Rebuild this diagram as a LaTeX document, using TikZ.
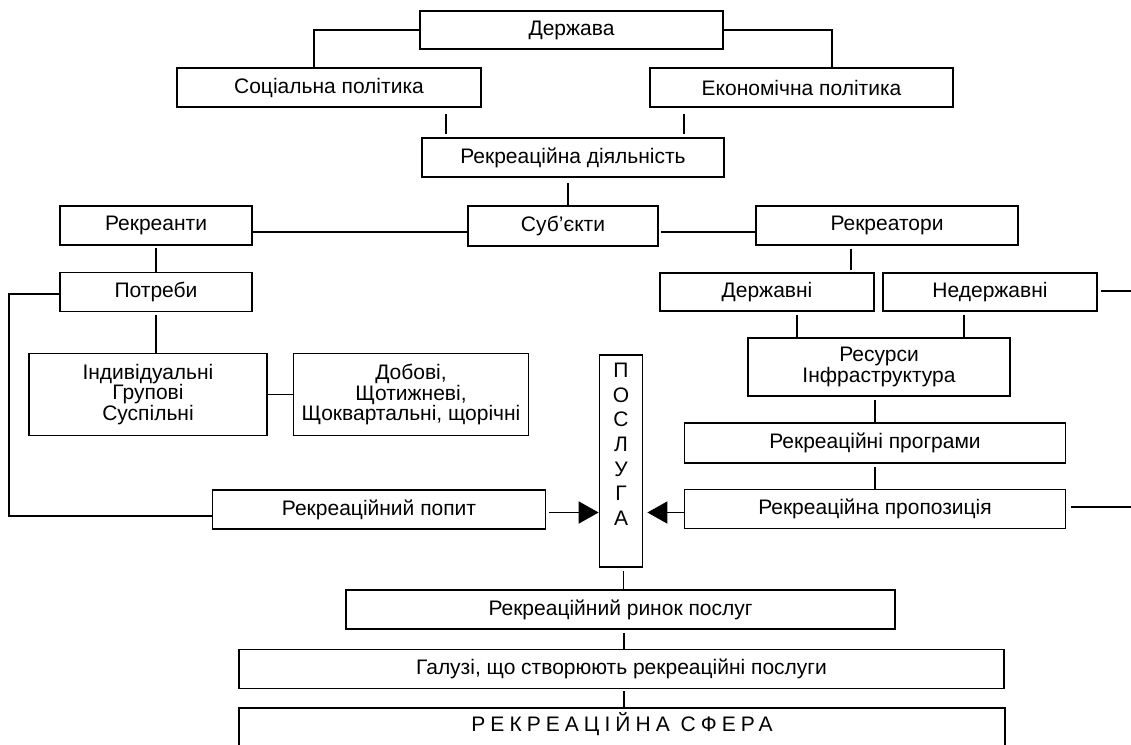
\documentclass[tikz,border=0pt]{standalone}
\usepackage{fontspec}
\setmainfont{Liberation Sans}
\usetikzlibrary{arrows.meta}

\begin{document}
\begin{tikzpicture}[x=1pt, y=-1pt, % 1pt = 原图 1 像素, y 轴向下
    blok/.style={draw=black, line width=1.8pt, inner sep=0pt, align=center,
      minimum height=39pt, font=\fontsize{21}{20.5}\selectfont},
    lin/.style={line width=1.8pt},
    strilka/.style={line width=1.8pt, -{Triangle[length=20pt, width=22pt]}}
  ]
    \useasboundingbox (0, 0) rectangle (1131, 744);

    % 1. 上部节点(国家、政策、活动、主体)
    \node [blok, minimum width=303pt, minimum height=38pt] (derzh) at (571.5, 30) {Держава};
    \node [blok, minimum width=304pt] (soc) at (329, 87.5) {Соціальна політика};
    \node [blok, minimum width=303pt] (ekon) at (801.5, 87.5) {Економічна політика};
    \node [blok, minimum width=302pt] (diyal) at (573, 157.5) {Рекреаційна діяльність};
    \node [blok, minimum width=190pt, minimum height=40pt] (subj) at (563, 226) {Суб’єкти};
    \node [blok, minimum width=192pt] (rekreanty) at (156, 225.5) {Рекреанти};
    \node [blok, minimum width=262pt] (rekreatory) at (887, 225.5) {Рекреатори};

    % 2. 左侧节点(需求)
    \node [blok, minimum width=192pt] (potreby) at (156, 292) {Потреби};
    \node [blok, minimum width=238pt, minimum height=82pt] (indyv) at (148, 394.5) {Індивідуальні\\Групові\\Суспільні};
    \node [blok, minimum width=235pt, minimum height=82pt] (dobovi) at (411, 394.5) {Добові,\\Щотижневі,\\Щоквартальні, щорічні};
    \node [blok, minimum width=333pt] (popyt) at (379, 509.5) {Рекреаційний попит};

    % 3. 右侧节点(供给)
    \node [blok, minimum width=214pt, minimum height=38pt] (derzhavni) at (767, 292) {Державні};
    \node [blok, minimum width=214pt, minimum height=38pt] (nederzh) at (990, 292) {Недержавні};
    \node [blok, minimum width=262pt, minimum height=58pt] (resursy) at (879, 367) {Ресурси\\Інфраструктура};
    \node [blok, minimum width=381pt, minimum height=40pt] (programy) at (875, 443) {Рекреаційні програми};
    \node [blok, minimum width=381pt] (propoz) at (875, 509) {Рекреаційна пропозиція};

    % 4. 中间竖条与下部节点
    \node [blok, minimum width=43pt, minimum height=212pt, font=\fontsize{21}{24.7}\selectfont,
      text height=131pt, text depth=2pt] (posluga) at (621, 461) {П\\О\\С\\Л\\У\\Г\\А};
    \node [blok, minimum width=549pt] (rynok) at (620.5, 609.5) {Рекреаційний ринок послуг};
    \node [blok, minimum width=765pt] (haluzi) at (621.5, 669) {Галузі, що створюють рекреаційні послуги};
    \node [blok, minimum width=766pt, minimum height=44pt, text height=15pt, text depth=12pt]
      (sfera) at (622, 730) {\addfontfeature{LetterSpace=24}РЕКРЕАЦІЙНА СФЕРА};

    % 5. 右边缘的两条线端点
    \coordinate (kraj1) at (1131, 291);
    \coordinate (kraj2) at (1131, 507);

    % 6. 连线
    \draw [lin] (derzh.west) -| ([xshift=-15pt]soc.north);
    \draw [lin] (derzh.east) -| ([xshift=30.5pt]ekon.north);
    \draw [lin, shorten <=6pt, shorten >=3pt] ([xshift=25pt]diyal.north west |- soc.south) -- ([xshift=25pt]diyal.north west);
    \draw [lin, shorten <=6pt, shorten >=3pt] ([xshift=-41pt]diyal.north east |- ekon.south) -- ([xshift=-41pt]diyal.north east);
    \draw [lin, shorten <=5pt] ([xshift=-5pt]diyal.south) -- ([xshift=-5pt]diyal.south |- subj.north);
    \draw [lin] ([yshift=-6.5pt]rekreanty.east) -- ([yshift=-6.5pt]rekreanty.east -| subj.west);
    \draw [lin, shorten <=2pt] ([yshift=-6pt]subj.east) -- ([yshift=-6pt]subj.east -| rekreatory.west);

    \draw [lin, shorten <=2pt] (rekreanty.south) -- (potreby.north);
    \draw [lin, shorten <=3pt] (potreby.south) -- (potreby.south |- indyv.north);
    \draw [lin] ([yshift=-2pt]potreby.west) -- ++(-50pt, 0) |- ([yshift=-6.5pt]popyt.west);
    \draw [lin] (indyv.east) -- (dobovi.west);

    \draw [lin, shorten <=3pt, shorten >=2pt] ([xshift=-36pt]rekreatory.south) -- ([xshift=-36pt]rekreatory.south |- derzhavni.north);
    \draw [lin, shorten <=3pt] (nederzh.east |- kraj1) -- (kraj1);
    \draw [lin, shorten <=3pt] ([xshift=30pt]derzhavni.south) -- ([xshift=30pt]derzhavni.south |- resursy.north);
    \draw [lin, shorten <=3pt] ([xshift=-26pt]nederzh.south) -- ([xshift=-26pt]nederzh.south |- resursy.north);
    \draw [lin, shorten <=3pt] (programy.north |- resursy.south) -- (programy.north);
    \draw [lin, shorten <=3pt] (programy.south) -- (propoz.north);
    \draw [lin, shorten <=5pt] (propoz.east |- kraj2) -- (kraj2);

    % 7. 指向“послуга”的箭头
    \draw [strilka, shorten <=3pt] ([yshift=-3pt]popyt.east) -- ([yshift=-3pt]popyt.east -| posluga.west);
    \draw [strilka, shorten >=4pt] ([yshift=-3.5pt]propoz.west) -- ([yshift=-3.5pt]propoz.west -| posluga.east);

    \draw [lin, shorten <=3pt] ([xshift=2.5pt]posluga.south) -- ([xshift=2.5pt]posluga.south |- rynok.north);
    \draw [lin, shorten <=3pt] ([xshift=3.5pt]rynok.south) -- ([xshift=3.5pt]rynok.south |- haluzi.north);
    \draw [lin, shorten <=2pt] ([xshift=2.5pt]haluzi.south) -- ([xshift=2.5pt]haluzi.south |- sfera.north);
\end{tikzpicture}
\end{document}
